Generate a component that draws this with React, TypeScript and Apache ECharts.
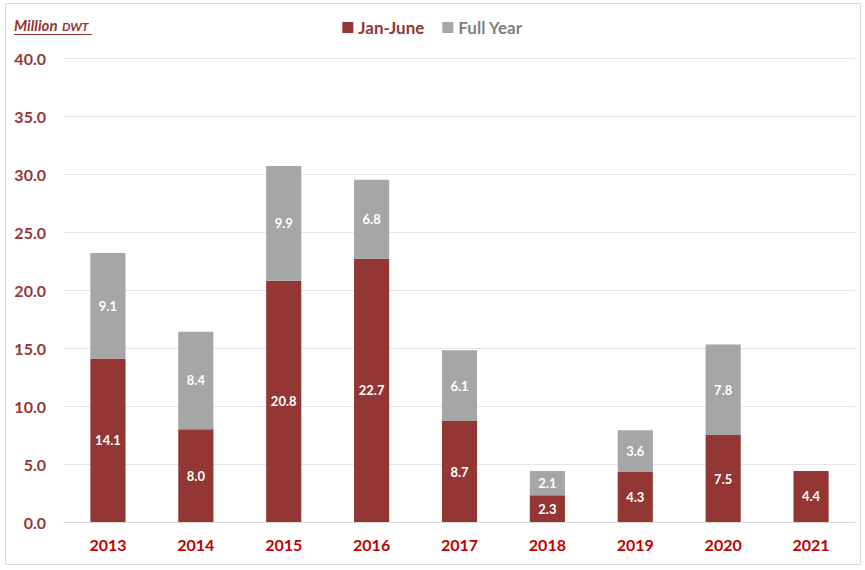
import React, { useEffect, useRef } from "react";
import * as echarts from "echarts";

const years = ["2013", "2014", "2015", "2016", "2017", "2018", "2019", "2020", "2021"];
const janJune = [14.1, 8.0, 20.8, 22.7, 8.7, 2.3, 4.3, 7.5, 4.4];
const fullYearExtra: (number | null)[] = [9.1, 8.4, 9.9, 6.8, 6.1, 2.1, 3.6, 7.8, null];

const RED = "#943634";
const GREY = "#a6a6a6";
const FONT = "Lato, 'Open Sans', sans-serif";

export default function App() {
  const ref = useRef<HTMLDivElement>(null);
  useEffect(() => {
    if (!ref.current) return;
    const chart = echarts.init(ref.current, undefined, { renderer: "svg" });
    chart.setOption({
      animation: false,
      backgroundColor: "#ffffff",
      textStyle: { fontFamily: FONT },
      legend: {
        top: 14,
        left: "center",
        itemWidth: 11,
        itemHeight: 11,
        itemGap: 18,
        icon: "rect",
        data: [
          { name: "Jan-June", textStyle: { color: RED } },
          { name: "Full Year", textStyle: { color: "#7f7f7f" } },
        ],
        textStyle: { fontSize: 17, fontWeight: "bold", fontFamily: FONT },
      },
      grid: { left: 64, right: 10, top: 58, bottom: 48, containLabel: false },
      xAxis: {
        type: "category",
        data: years,
        axisTick: { show: false },
        axisLine: { lineStyle: { color: "#d9d9d9" } },
        axisLabel: { color: "#c00000", fontSize: 16, fontWeight: "bold", margin: 14, fontFamily: FONT },
      },
      yAxis: {
        type: "value",
        min: 0,
        max: 40,
        interval: 5,
        axisLabel: {
          color: RED,
          fontSize: 16,
          fontWeight: "bold",
          margin: 18,
          fontFamily: FONT,
          formatter: (v: number) => v.toFixed(1),
        },
        splitLine: { lineStyle: { color: "#e6e6e6" } },
        axisLine: { show: false },
        axisTick: { show: false },
      },
      series: [
        {
          name: "Jan-June",
          type: "bar",
          stack: "t",
          barWidth: "40%",
          data: janJune,
          itemStyle: { color: RED },
          label: {
            show: true,
            position: "inside",
            color: "#ffffff",
            fontWeight: "bold",
            fontSize: 13,
            fontFamily: FONT,
            formatter: (p: any) => Number(p.value).toFixed(1),
          },
        },
        {
          name: "Full Year",
          type: "bar",
          stack: "t",
          barWidth: "40%",
          data: fullYearExtra,
          itemStyle: { color: GREY },
          label: {
            show: true,
            position: "inside",
            color: "#ffffff",
            fontWeight: "bold",
            fontSize: 13,
            fontFamily: FONT,
            formatter: (p: any) => (p.value == null ? "" : Number(p.value).toFixed(1)),
          },
        },
      ],
      graphic: [
        {
          type: "rect",
          shape: { x: 5.5, y: 3.5, width: 855, height: 561 },
          style: { fill: "none", stroke: "#d9d9d9", lineWidth: 1 },
          silent: true,
        },
        {
          type: "text",
          left: 14,
          top: 17,
          style: {
            text: "{a|Million} {b|DWT}",
            rich: {
              a: { fontSize: 15, lineHeight: 16, verticalAlign: "bottom", fontStyle: "italic", fontWeight: "bold", fill: RED, fontFamily: FONT },
              b: { fontSize: 12, lineHeight: 16, verticalAlign: "bottom", fontStyle: "italic", fontWeight: "bold", fill: RED, fontFamily: FONT, padding: [0, 0, 0, 1] },
            },
          },
        },
        {
          type: "line",
          shape: { x1: 14, y1: 34.5, x2: 92, y2: 34.5 },
          style: { stroke: RED, lineWidth: 1 },
        },
      ],
    });
    return () => chart.dispose();
  }, []);
  return (
    <div
      ref={ref}
      style={{ position: "absolute", left: 0, top: 0, width: 865, height: 570 }}
    />
  );
}
